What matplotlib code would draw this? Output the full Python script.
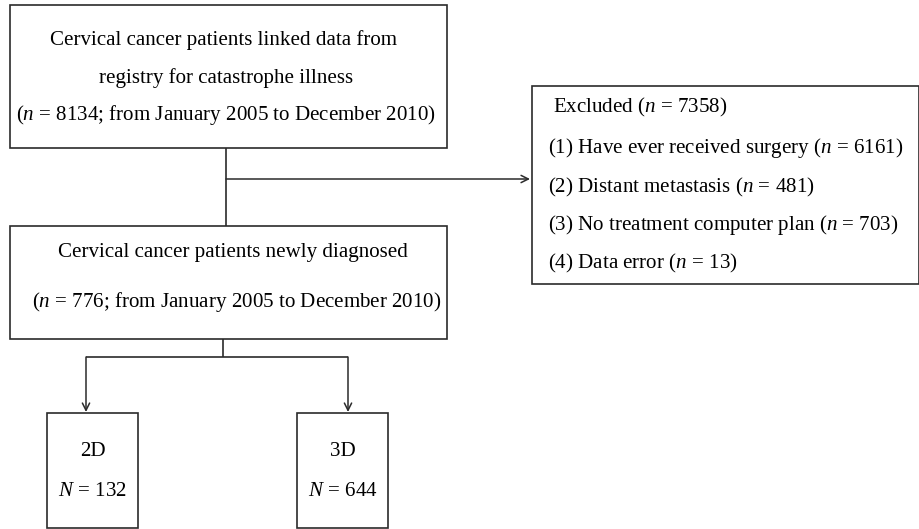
"""Flow diagram of cervical cancer patient selection (2D vs 3D planning)."""

import matplotlib

matplotlib.use("Agg")
import matplotlib.pyplot as plt
from matplotlib.patches import Rectangle

plt.rcParams["font.family"] = ["Liberation Serif", "DejaVu Serif"]
plt.rcParams["mathtext.fontset"] = "custom"
plt.rcParams["mathtext.rm"] = "Liberation Serif"
plt.rcParams["mathtext.it"] = "Liberation Serif:italic"

# Data
n_linked = 8134
n_excluded = 7358
exclusion_reasons = [
    "Have ever received surgery",
    "Distant metastasis",
    "No treatment computer plan",
    "Data error",
]
exclusion_counts = [6161, 481, 703, 13]
n_new = 776
period = "from January 2005 to December 2010"
groups = ["2D", "3D"]
group_counts = [132, 644]

LINE = "#2b2b2b"
FS = 15.1

fig = plt.figure(figsize=(9.2, 5.29), dpi=100)
ax = fig.add_axes([0, 0, 1, 1])
ax.set_xlim(0, 920)
ax.set_ylim(529, 0)
ax.axis("off")


def box(x0, y0, x1, y1):
    ax.add_patch(Rectangle((x0, y0), x1 - x0, y1 - y0, fill=False,
                           edgecolor=LINE, linewidth=1.2))


def line(xs, ys):
    ax.plot(xs, ys, color=LINE, linewidth=1.2, solid_capstyle="butt")


def arrow(x0, y0, x1, y1):
    ax.annotate("", xy=(x1, y1), xytext=(x0, y0),
                arrowprops=dict(arrowstyle="->", color=LINE, lw=1.1,
                                mutation_scale=13, shrinkA=0, shrinkB=0))


# Box 1: linked data
box(10, 5, 447, 148)
ax.text(224, 40, "Cervical cancer patients linked data from", ha="center",
        va="center", fontsize=FS)
ax.text(226, 78, "registry for catastrophe illness", ha="center",
        va="center", fontsize=FS)
ax.text(226, 115, f"($n$ = {n_linked}; {period})", ha="center",
        va="center", fontsize=FS)

# connector to exclusion box
line([226, 226], [148, 226])
arrow(226, 179, 530, 179)

# Exclusion box
box(532, 86, 919, 284)
ax.text(553, 107, f"Excluded ($n$ = {n_excluded})", ha="left", va="center",
        fontsize=FS)
ex_y = [148, 187, 225, 263]
for i, (reason, cnt) in enumerate(zip(exclusion_reasons, exclusion_counts)):
    ax.text(548, ex_y[i], f"({i + 1}) {reason} ($n$ = {cnt})", ha="left",
            va="center", fontsize=FS)

# Box 2: newly diagnosed
box(10, 226, 447, 339)
ax.text(233, 252, "Cervical cancer patients newly diagnosed", ha="center",
        va="center", fontsize=FS)
ax.text(237, 302, f"($n$ = {n_new}; {period})", ha="center", va="center",
        fontsize=FS)

# split into 2D / 3D
line([223, 223], [339, 357])
group_x = [86, 348]
line([group_x[0], group_x[1]], [357, 357])
box_edges = [(47, 138), (297, 388)]
for gx, (bx0, bx1), name, cnt in zip(group_x, box_edges, groups, group_counts):
    arrow(gx, 357, gx, 412)
    box(bx0, 413, bx1, 528)
    cx = (bx0 + bx1) / 2
    ax.text(cx, 452, name, ha="center", va="center", fontsize=FS)
    ax.text(cx, 491, f"$N$ = {cnt}", ha="center", va="center", fontsize=FS)

fig.savefig("out.png", dpi=100, facecolor="white")
